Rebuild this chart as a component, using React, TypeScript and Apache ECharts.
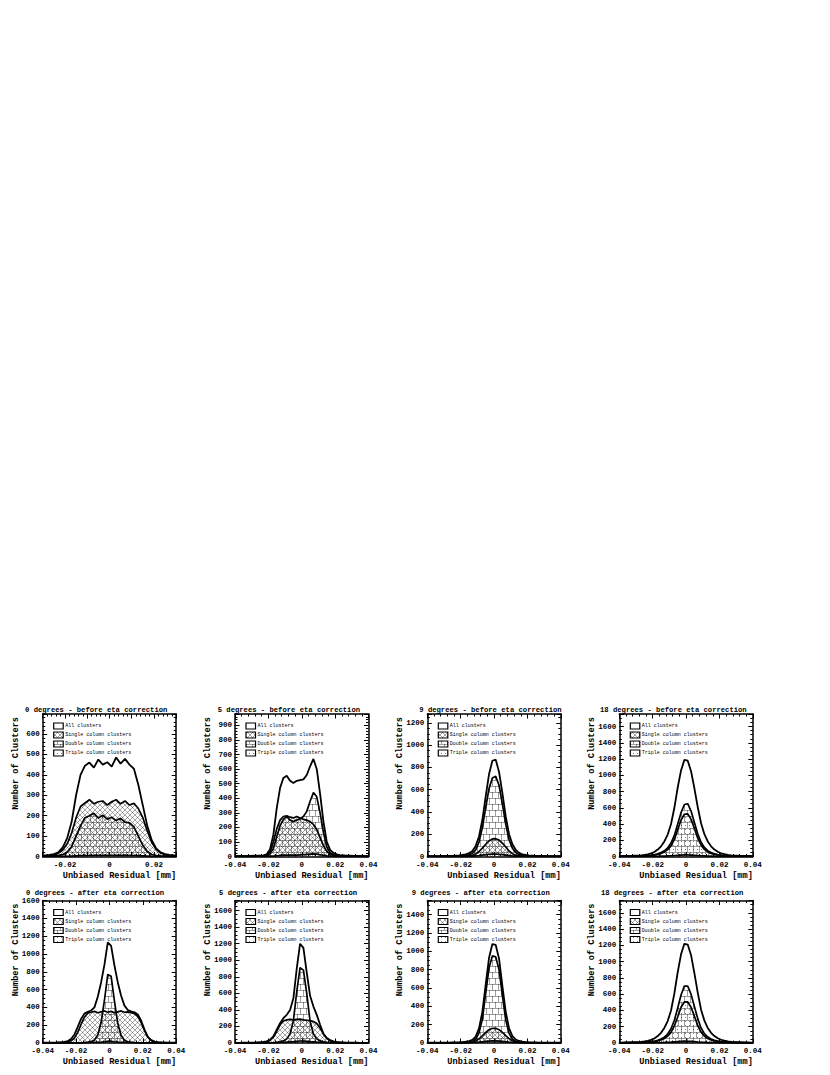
import React, { useEffect, useRef } from "react";
import * as echarts from "echarts";

const BIN = 0.002;
const LEGEND = ["All clusters", "Single column clusters", "Double column clusters", "Triple column clusters"];
const TITLES = [
  "0 degrees - before eta correction",
  "5 degrees - before eta correction",
  "9 degrees - before eta correction",
  "18 degrees - before eta correction",
  "0 degrees - after eta correction",
  "5 degrees - after eta correction",
  "9 degrees - after eta correction",
  "18 degrees - after eta correction",
];
const X_TITLE = "Unbiased Residual [mm]";
const Y_TITLE = "Number of Clusters";
const X_MIN = [-0.03, -0.04, -0.04, -0.04, -0.04, -0.04, -0.04, -0.04];
const X_MAX = [0.03, 0.04, 0.04, 0.04, 0.04, 0.04, 0.04, 0.04];
const X_TICK = [0.01, 0.02, 0.02, 0.02, 0.02, 0.02, 0.02, 0.02];
const X_LABEL_STEP = 0.02;
const Y_MAX = [698, 979, 1280, 1755, 1600, 1722, 1555, 1752];
const Y_TICK = [100, 100, 200, 200, 200, 200, 200, 200];

// 0 degrees - before (bins of 0.002 from -0.03)
const p1All = [5,8,12,20,45,90,170,300,400,445,460,435,475,450,462,440,485,455,478,450,430,350,250,150,80,40,20,12,8,5];
const p1Single = [3,5,8,15,32,62,115,190,245,262,278,258,268,272,252,268,278,258,272,252,260,235,190,125,70,35,17,9,5,3];
const p1Double = [1,2,3,4,9,22,48,100,150,190,200,212,188,202,183,192,176,187,168,165,145,100,55,25,10,5,3,2,1,1];
const p1Triple = [0,0,0,0,1,1,2,3,4,5,5,6,6,6,6,6,6,6,6,5,5,4,3,2,1,1,0,0,0,0];

// 5 degrees - before (bins of 0.002 from -0.04)
const p2All = [2,2,3,3,4,5,5,6,8,15,50,150,330,470,540,555,520,505,520,525,530,560,620,670,600,430,240,100,45,25,15,10,8,6,5,4,3,3,2,2];
const p2Single = [1,1,1,2,2,2,3,3,4,8,30,100,190,250,275,280,270,265,275,265,255,250,240,220,185,130,75,35,15,8,5,4,3,3,2,2,2,1,1,1];
const p2Double = [1,1,1,1,2,2,2,3,3,6,20,55,135,210,255,275,250,240,250,260,275,310,380,440,410,300,165,65,25,12,6,4,3,3,2,2,2,1,1,1];
const p2Triple = [0,0,0,0,0,0,0,1,1,1,2,3,5,7,9,10,10,10,10,11,12,14,16,18,16,12,8,4,2,1,1,0,0,0,0,0,0,0,0,0];

// 9 degrees - before
const p3All = [3,3,4,4,5,5,6,6,8,10,14,20,30,50,95,180,330,540,740,860,870,760,570,360,200,110,60,32,20,14,10,8,6,6,5,4,4,3,3,3];
const p3Single = [0,0,0,0,1,1,1,1,1,2,2,3,5,10,22,45,75,110,140,158,160,148,120,85,50,25,12,6,4,3,2,2,1,1,1,1,0,0,0,0];
const p3Double = [1,1,1,1,2,2,2,2,3,4,6,9,15,28,60,130,260,440,610,705,720,640,470,290,150,75,35,17,10,7,5,4,3,2,2,2,1,1,1,1];
const p3Triple = [0,0,0,0,0,0,0,0,1,1,1,2,3,4,6,9,13,17,20,22,22,20,17,13,9,6,4,3,2,1,1,1,0,0,0,0,0,0,0,0];

// 18 degrees - before
const p4All = [5,6,7,8,10,12,15,20,27,38,55,85,125,185,270,400,600,850,1060,1190,1180,1050,840,610,410,275,185,125,85,58,40,28,20,15,12,10,8,7,6,5];
const p4Single = [0,0,0,0,0,1,1,1,1,2,2,3,4,5,7,9,12,15,18,20,20,18,15,12,9,7,5,4,3,2,2,1,1,1,1,0,0,0,0,0];
const p4Double = [3,3,4,4,5,6,7,9,12,16,22,32,48,70,105,165,260,400,540,640,650,560,420,280,175,112,72,48,33,24,17,13,10,8,6,5,4,4,3,3];
const p4Triple = [2,3,3,4,4,5,6,7,9,12,17,25,38,56,85,130,210,330,450,520,525,460,345,225,140,88,56,37,26,19,14,11,8,7,5,4,4,3,3,2];

// 0 degrees - after
const p5All = [3,3,4,5,6,8,12,22,45,95,180,270,330,350,365,400,520,680,880,1130,1090,870,680,530,420,370,355,345,320,250,150,70,32,15,9,6,5,4,3,3];
const p5Single = [2,2,3,3,4,5,7,12,25,55,120,210,290,335,345,355,340,350,360,345,355,340,350,360,345,350,340,330,300,230,140,65,30,13,7,5,4,3,2,2];
const p5Double = [0,0,0,0,0,1,1,1,1,2,2,3,5,8,15,35,90,230,480,770,750,470,220,85,32,14,7,4,3,2,2,1,1,1,1,0,0,0,0,0];
const p5Triple = [0,0,0,0,0,0,0,0,1,1,2,3,4,5,6,7,8,10,14,20,20,14,10,8,7,6,5,4,3,2,1,1,0,0,0,0,0,0,0,0];

// 5 degrees - after
const p6All = [2,2,3,3,4,5,6,8,12,20,40,80,160,240,300,340,400,540,900,1200,1150,850,570,440,340,220,110,60,35,20,12,8,6,5,4,3,3,2,2,2];
const p6Single = [1,1,2,2,2,3,4,5,8,14,30,70,140,220,265,280,285,280,285,290,280,275,270,260,235,180,110,55,25,12,7,5,4,3,2,2,2,1,1,1];
const p6Double = [0,0,0,0,1,1,1,1,2,2,3,5,8,14,25,50,110,270,620,910,880,600,260,110,50,25,13,7,4,3,2,2,1,1,1,1,0,0,0,0];
const p6Triple = [0,0,0,0,0,0,0,1,1,1,2,3,4,6,8,10,13,16,20,24,24,20,16,13,10,8,6,4,3,2,1,1,1,0,0,0,0,0,0,0];

// 9 degrees - after
const p7All = [3,3,3,4,4,5,5,6,7,8,10,14,20,35,70,160,340,640,930,1080,1070,920,620,340,160,75,38,22,14,10,8,7,6,5,5,4,4,3,3,3];
const p7Single = [0,0,0,0,1,1,1,1,1,2,2,3,5,10,22,45,78,115,145,160,160,145,115,80,48,24,12,6,4,3,2,2,1,1,1,1,0,0,0,0];
const p7Double = [1,1,1,1,2,2,2,2,3,3,4,6,9,16,40,110,260,540,820,950,940,800,520,250,105,42,18,10,6,4,3,3,2,2,2,1,1,1,1,1];
const p7Triple = [0,0,0,0,0,0,0,0,1,1,1,2,3,4,6,9,13,17,21,24,24,21,17,13,9,6,4,3,2,1,1,1,0,0,0,0,0,0,0,0];

// 18 degrees - after
const p8All = [5,6,7,8,10,12,15,20,27,38,55,85,125,185,270,400,610,870,1090,1220,1210,1080,860,620,410,275,185,125,85,58,40,28,20,15,12,10,8,7,6,5];
const p8Single = [0,0,0,0,0,1,1,1,1,2,2,3,4,6,8,10,13,16,19,22,21,19,16,12,9,7,5,4,3,2,2,1,1,1,1,0,0,0,0,0];
const p8Double = [3,3,4,4,5,6,7,9,12,16,22,32,48,72,110,175,280,430,590,700,700,600,450,300,185,115,74,49,34,24,17,13,10,8,6,5,4,4,3,3];
const p8Triple = [2,3,3,4,4,5,6,7,9,12,17,25,38,56,85,130,210,320,440,505,505,440,330,215,135,85,55,37,26,19,14,11,8,7,5,4,4,3,3,2];

const PANELS = [
  [p1All, p1Single, p1Double, p1Triple],
  [p2All, p2Single, p2Double, p2Triple],
  [p3All, p3Single, p3Double, p3Triple],
  [p4All, p4Single, p4Double, p4Triple],
  [p5All, p5Single, p5Double, p5Triple],
  [p6All, p6Single, p6Double, p6Triple],
  [p7All, p7Single, p7Double, p7Triple],
  [p8All, p8Single, p8Double, p8Triple],
];

// layout
const COL_L = [42.7, 235, 427.3, 619.3];
const PLOT_W = 133.5;
const ROW_T = [714, 900.5];
const PLOT_H = 142.5;
const TITLE_X = [25, 217.7, 419.3, 600, 26, 219, 411.7, 601];
const TITLE_DY = [-4, -8];
const FONT = '"Liberation Mono", "Courier New", monospace';

// histogram outline through bin centres, closed at the axis edges
function histData(vals: number[], xmin: number) {
  const n = vals.length;
  const pts: number[][] = [[xmin, vals[0]]];
  vals.forEach((v, i) => pts.push([xmin + (i + 0.5) * BIN, v]));
  pts.push([xmin + n * BIN, vals[n - 1]]);
  return pts;
}

function makeTile(kind: string) {
  const c = document.createElement("canvas");
  let w = 5, h = 5;
  if (kind === "brick") { w = 6; h = 12; }
  if (kind === "dots") { w = 4; h = 4; }
  c.width = w; c.height = h;
  const g = c.getContext("2d") as CanvasRenderingContext2D;
  if (kind === "cross") {
    g.strokeStyle = "rgba(0,0,0,0.5)";
    g.lineWidth = 0.7;
    g.beginPath();
    for (const dx of [-w, 0, w]) {
      g.moveTo(dx, 0); g.lineTo(dx + w, h);
      g.moveTo(dx + w, 0); g.lineTo(dx, h);
    }
    g.stroke();
  } else if (kind === "brick") {
    g.fillStyle = "rgba(0,0,0,0.38)";
    g.fillRect(0, 0, w, 1);
    g.fillRect(0, h / 2, w, 1);
    g.fillRect(0, 0, 1, h / 2);
    g.fillRect(w / 2, h / 2, 1, h / 2);
  } else {
    g.fillStyle = "rgba(0,0,0,0.5)";
    g.fillRect(1, 1, 1, 1);
  }
  return { image: c.toDataURL("image/png"), repeat: "repeat", imageWidth: w, imageHeight: h };
}

function fmtX(v: number) {
  const k = v / X_LABEL_STEP;
  if (Math.abs(k - Math.round(k)) > 1e-6) return "";
  const r = Math.round(k) * X_LABEL_STEP;
  if (Math.abs(r) < 1e-9) return "0";
  return r.toFixed(2);
}

export default function App() {
  const ref = useRef<HTMLDivElement>(null);
  useEffect(() => {
    if (!ref.current) return;
    const chart = echarts.init(ref.current, null, { renderer: "svg", width: 830, height: 1075 });
    const fills: any[] = ["#ffffff", makeTile("cross"), makeTile("brick"), makeTile("dots")];
    const grid: any[] = [], xAxis: any[] = [], yAxis: any[] = [], series: any[] = [], graphic: any[] = [];
    const lineSt = { color: "#000", width: 1.5 };
    const tickSt = { color: "#000", width: 1 };
    const txt = (text: string, x: number, y: number, size: number, weight: string, align: string, extra: any = {}) => ({
      type: "text", x, y, z: 100, ...extra,
      style: {
        text, fontSize: size, fontFamily: FONT, fontWeight: weight, fill: "#000",
        align, verticalAlign: "middle", textAlign: align, textVerticalAlign: "middle",
      },
    });
    for (let p = 0; p < 8; p++) {
      const col = p % 4, row = Math.floor(p / 4);
      const left = COL_L[col], top = ROW_T[row];
      grid.push({ left, top, width: PLOT_W, height: PLOT_H, containLabel: false, outerBoundsMode: "none" });
      const xBase = {
        type: "value", gridIndex: p, min: X_MIN[p], max: X_MAX[p], interval: X_TICK[p], z: 10,
        axisLine: { show: true, onZero: false, lineStyle: lineSt },
        axisTick: { show: true, inside: true, length: 4.5, lineStyle: tickSt },
        minorTick: { show: true, splitNumber: 5, length: 2.5, lineStyle: tickSt },
        splitLine: { show: false }, minorSplitLine: { show: false },
      };
      xAxis.push({ ...xBase, position: "bottom",
        axisLabel: { show: true, formatter: fmtX, fontFamily: FONT, fontSize: 7.5, fontWeight: "bold", color: "#000", margin: 4, hideOverlap: false, showMinLabel: true, showMaxLabel: true } });
      xAxis.push({ ...xBase, position: "top", axisLabel: { show: false } });
      const iv = Y_TICK[p];
      const yBase = {
        type: "value", gridIndex: p, min: 0, max: Y_MAX[p], interval: iv, z: 10,
        axisLine: { show: true, onZero: false, lineStyle: lineSt },
        axisTick: { show: true, inside: true, length: 4.5, lineStyle: tickSt },
        minorTick: { show: true, splitNumber: iv === 100 ? 5 : 4, length: 2.5, lineStyle: tickSt },
        splitLine: { show: false }, minorSplitLine: { show: false },
      };
      yAxis.push({ ...yBase, position: "left",
        axisLabel: { show: true, formatter: (v: number) => (Math.abs(v % iv) < 1e-6 ? String(v) : ""), fontFamily: FONT, fontSize: 7.5, fontWeight: "bold", color: "#000", margin: 3, hideOverlap: false } });
      yAxis.push({ ...yBase, position: "right", axisLabel: { show: false } });
      PANELS[p].forEach((vals, s) => {
        series.push({
          type: "line", xAxisIndex: 2 * p, yAxisIndex: 2 * p, data: histData(vals, X_MIN[p]),
          symbol: "none", showSymbol: false, silent: true, clip: true, z: 3,
          lineStyle: { color: "#000", width: s === 0 ? 1.8 : 1.7 },
          areaStyle: { color: fills[s], opacity: 1 },
        });
      });
      graphic.push(txt(TITLES[p], TITLE_X[p], top + TITLE_DY[row], 7.2, "bold", "left"));
      graphic.push(txt(X_TITLE, left + PLOT_W, top + PLOT_H + 19, 8.6, "bold", "right"));
      graphic.push(txt(Y_TITLE, left - 27, top + 3, 8.6, "bold", "right", { rotation: Math.PI / 2 }));
      LEGEND.forEach((name, s) => {
        const cy = top + 12 + s * 9;
        graphic.push({ type: "rect", z: 100, shape: { x: left + 11, y: cy - 3, width: 9.5, height: 6 },
          style: { fill: fills[s], stroke: "#000", lineWidth: 1.2 } });
        graphic.push(txt(name, left + 22.5, cy, 5, "normal", "left"));
      });
    }
    chart.setOption({ animation: false, backgroundColor: "#ffffff", grid, xAxis, yAxis, series, graphic });
    return () => chart.dispose();
  }, []);
  return <div ref={ref} style={{ position: "absolute", left: 0, top: 0, width: 830, height: 1075 }} />;
}
